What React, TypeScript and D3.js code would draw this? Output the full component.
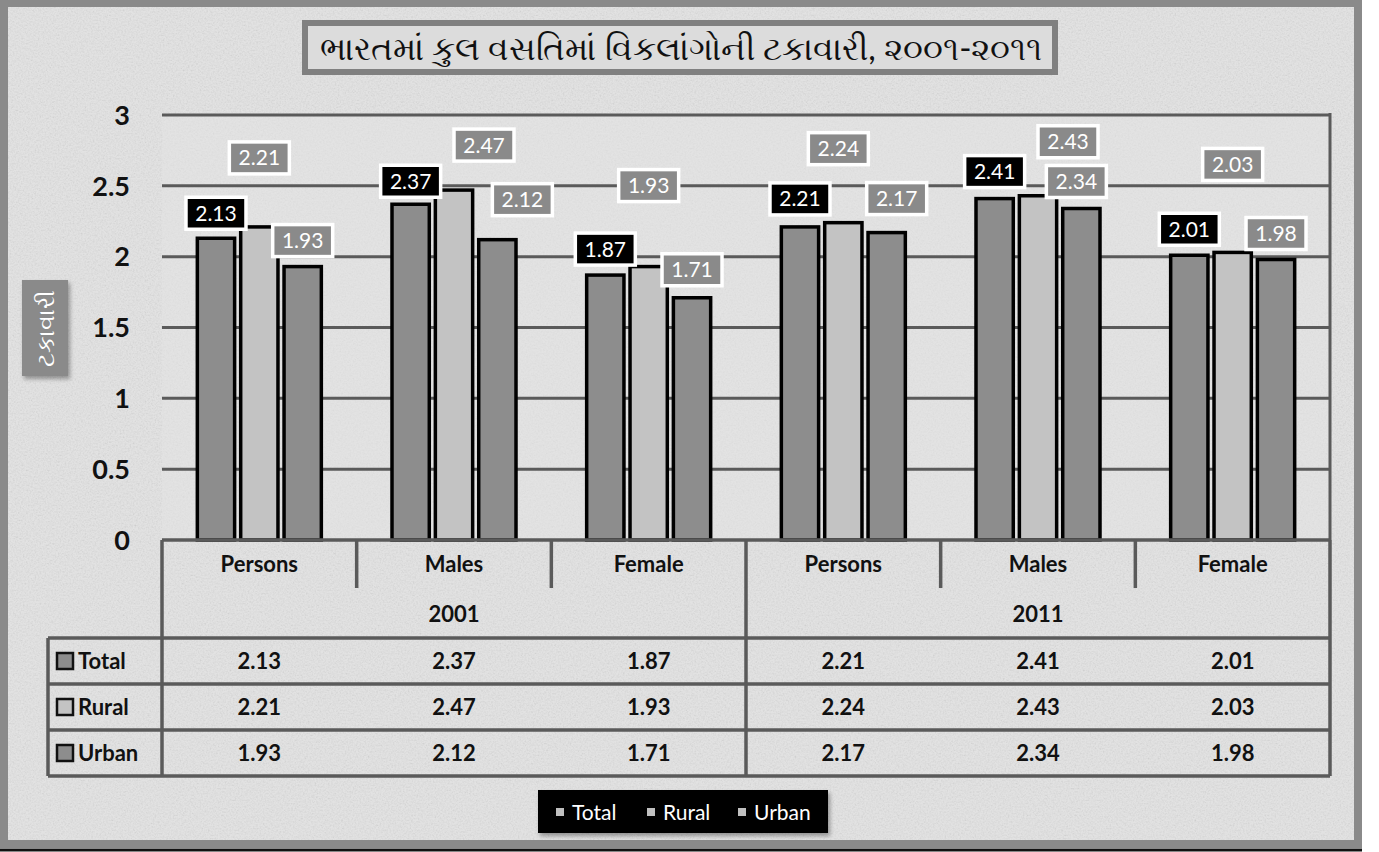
import React from 'react';
import * as d3 from 'd3';

// chart values
const categories = ['Persons', 'Males', 'Female', 'Persons', 'Males', 'Female'];
const years = ['2001', '2011'];
const seriesNames = ['Total', 'Rural', 'Urban'];
const totalValues = [2.13, 2.37, 1.87, 2.21, 2.41, 2.01];
const ruralValues = [2.21, 2.47, 1.93, 2.24, 2.43, 2.03];
const urbanValues = [1.93, 2.12, 1.71, 2.17, 2.34, 1.98];
const yTicks = [0, 0.5, 1, 1.5, 2, 2.5, 3];
const title = 'ભારતમાં કુલ વસતિમાં વિકલાંગોની ટકાવારી, ૨૦૦૧-૨૦૧૧';
const yTitle = 'ટકાવારી';

// label placement (Excel had these dragged by hand): lift above bar top, x shift
const labelLift = [
    [25, 23, 26, 28, 27, 26],
    [69, 45, 81, 74, 54, 88],
    [26, 40, 28, 34, 27, 26],
];
const labelShift = [
    [0, 0, 0, 0, 0, 0],
    [0, 30, 0, -5, 30, 0],
    [0, 25, 0, 10, -5, 0],
];

const W = 1379;
const H = 852;
const plot = { left: 162, right: 1330, top: 115, bottom: 540 };
const fillColors = ['#8d8d8d', '#c3c3c3', '#8d8d8d'];
const labelFills = ['#000000', '#8a8a8a', '#8a8a8a'];
const font = 'Lato, "Open Sans", "DejaVu Sans", sans-serif';
const gridColor = '#5a5a5a';

export default function App() {
    const values = [totalValues, ruralValues, urbanValues];
    const keys = categories.map((c, i) => `${c}-${i}`);

    const x0 = d3.scaleBand<string>().domain(keys).range([plot.left, plot.right]);
    const x1 = d3.scaleBand<string>().domain(seriesNames).range([0, 124]).paddingInner(0.14);
    const y = d3.scaleLinear().domain([0, 3]).range([plot.bottom, plot.top]);
    const groupOffset = (x0.bandwidth() - 124) / 2;
    const barX = (ci: number, s: string) => (x0(keys[ci]) as number) + groupOffset + (x1(s) as number);

    const rowTop = 638;
    const rowH = 46;
    const tableLeft = 48;

    return (
        <svg width={W} height={H} style={{ position: 'absolute', left: 0, top: 0 }} fontFamily={font}>
            <defs>
                <filter id="noise" x="0" y="0" width="100%" height="100%">
                    <feTurbulence type="fractalNoise" baseFrequency="0.6" numOctaves="3" seed="4" />
                    <feColorMatrix type="matrix" values="0.5 0.5 0.5 0 0.1  0.5 0.5 0.5 0 0.1  0.5 0.5 0.5 0 0.1  0 0 0 0 0.22" />
                </filter>
                <filter id="shadow" x="-20%" y="-20%" width="140%" height="160%">
                    <feDropShadow dx="2" dy="3" stdDeviation="2" floodColor="#000" floodOpacity="0.35" />
                </filter>
            </defs>

            {/* background frame */}
            <rect x={0} y={0} width={W} height={H} fill="#ffffff" />
            <rect x={4} y={3} width={1354} height={841} fill="#dadada" stroke="#8a8a8a" strokeWidth={8} />
            <rect x={8} y={7} width={1346} height={833} filter="url(#noise)" />
            <line x1={0} x2={1362} y1={850} y2={850} stroke="#111" strokeWidth={3} />

            {/* plot area */}
            <rect x={plot.left} y={plot.top} width={plot.right - plot.left} height={plot.bottom - plot.top} fill="#e4e4e4" opacity={0.5} />
            {yTicks.filter(t => t > 0).map(t => (
                <line key={t} x1={plot.left} x2={plot.right} y1={y(t)} y2={y(t)} stroke={gridColor} strokeWidth={3} />
            ))}
            <line x1={plot.right} x2={plot.right} y1={plot.top - 2} y2={plot.bottom} stroke={gridColor} strokeWidth={3} />

            {/* y tick labels */}
            {yTicks.map(t => (
                <text key={t} x={130} y={y(t)} dy="0.36em" textAnchor="end" fontSize={27} fontWeight={700} fill="#111">
                    {String(t)}
                </text>
            ))}

            {/* y axis title */}
            <g filter="url(#shadow)">
                <rect x={22} y={280} width={46} height={96} fill="#8a8a8a" />
            </g>
            <text transform="translate(46,328) rotate(-90)" textAnchor="middle" dy="0.35em" fontSize={24} fill="#fff">
                {yTitle}
            </text>

            {/* bars */}
            {values.map((vals, si) =>
                vals.map((v, ci) => (
                    <rect
                        key={`b${si}-${ci}`}
                        x={barX(ci, seriesNames[si])}
                        y={y(v)}
                        width={x1.bandwidth()}
                        height={y(0) - y(v)}
                        fill={fillColors[si]}
                        stroke="#000"
                        strokeWidth={3.5}
                    />
                ))
            )}

            {/* data labels */}
            {values.map((vals, si) =>
                vals.map((v, ci) => {
                    const cx = barX(ci, seriesNames[si]) + x1.bandwidth() / 2 + labelShift[si][ci];
                    const cy = y(v) - labelLift[si][ci];
                    return (
                        <g key={`l${si}-${ci}`}>
                            <rect x={cx - 30} y={cy - 16} width={60} height={32} fill={labelFills[si]} stroke="#fff" strokeWidth={3.5} />
                            <text x={cx} y={cy} dy="0.36em" textAnchor="middle" fontSize={21} fill="#fff">
                                {v.toFixed(2)}
                            </text>
                        </g>
                    );
                })
            )}

            {/* data table: category + year header */}
            <line x1={plot.left} x2={plot.right} y1={plot.bottom} y2={plot.bottom} stroke={gridColor} strokeWidth={3.5} />
            <line x1={plot.left} x2={plot.left} y1={plot.bottom} y2={rowTop + rowH * 3} stroke={gridColor} strokeWidth={3.5} />
            <line x1={plot.right} x2={plot.right} y1={plot.bottom} y2={rowTop + rowH * 3} stroke={gridColor} strokeWidth={3.5} />
            {keys.slice(1).map((k, i) => {
                const xx = x0(k) as number;
                const isYearEdge = i + 1 === 3;
                return (
                    <line key={k} x1={xx} x2={xx} y1={plot.bottom} y2={isYearEdge ? rowTop + rowH * 3 : 588} stroke={gridColor} strokeWidth={3.5} />
                );
            })}
            {keys.map((k, i) => (
                <text key={k} x={(x0(k) as number) + x0.bandwidth() / 2} y={564} dy="0.36em" textAnchor="middle" fontSize={22} fontWeight={700} fill="#111">
                    {categories[i]}
                </text>
            ))}
            {years.map((yr, i) => (
                <text key={yr} x={(x0(keys[i * 3 + 1]) as number) + x0.bandwidth() / 2} y={614} dy="0.36em" textAnchor="middle" fontSize={22} fontWeight={700} fill="#111">
                    {yr}
                </text>
            ))}

            {/* data table: series rows */}
            {[0, 1, 2, 3].map(r => (
                <line key={r} x1={tableLeft} x2={plot.right} y1={rowTop + rowH * r} y2={rowTop + rowH * r} stroke={gridColor} strokeWidth={3.5} />
            ))}
            <line x1={tableLeft} x2={tableLeft} y1={rowTop} y2={rowTop + rowH * 3} stroke={gridColor} strokeWidth={3.5} />
            {seriesNames.map((s, si) => {
                const cy = rowTop + rowH * si + rowH / 2;
                return (
                    <g key={s}>
                        <rect x={57} y={cy - 8} width={16} height={16} fill={fillColors[si]} stroke="#111" strokeWidth={2.5} />
                        <text x={78} y={cy} dy="0.36em" fontSize={22} fontWeight={700} fill="#111">{s}</text>
                        {values[si].map((v, ci) => (
                            <text key={ci} x={(x0(keys[ci]) as number) + x0.bandwidth() / 2} y={cy} dy="0.36em" textAnchor="middle" fontSize={22} fontWeight={700} fill="#111">
                                {v.toFixed(2)}
                            </text>
                        ))}
                    </g>
                );
            })}

            {/* title */}
            <rect x={305} y={23} width={750} height={49} fill="#dcdcdc" stroke="#808080" strokeWidth={6} />
            <text x={681} y={48} dy="0.35em" textAnchor="middle" fontSize={33} fill="#111">
                {title}
            </text>

            {/* bottom legend */}
            <g filter="url(#shadow)">
                <rect x={538} y={790} width={290} height={43} fill="#050505" />
            </g>
            {seriesNames.map((s, i) => {
                const lx = 556 + i * 91;
                return (
                    <g key={s}>
                        <rect x={lx} y={808} width={8} height={8} fill="#c0c0c0" />
                        <text x={lx + 16} y={812} dy="0.36em" fontSize={21} fill="#fff">{s}</text>
                    </g>
                );
            })}
        </svg>
    );
}
